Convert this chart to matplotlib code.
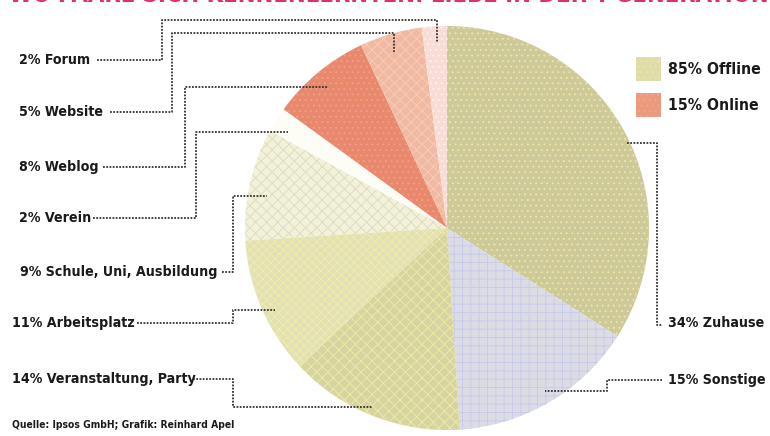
import matplotlib
matplotlib.use("Agg")
import matplotlib.pyplot as plt
from matplotlib import font_manager

# Daten
kategorien = ["Zuhause", "Sonstige", "Veranstaltung, Party", "Arbeitsplatz",
              "Schule, Uni, Ausbildung", "Verein", "Weblog", "Website", "Forum"]
anteile = [34, 15, 14, 11, 9, 2, 8, 5, 2]
farben = ["#cdc99b", "#dcdce4", "#d6d4a2", "#e2e0b6", "#f3f1d6", "#fdfdf6",
          "#e8896c", "#f1b9a2", "#f8dcd6"]
muster_farben = ["#ebe79e", "#cacaee", "#eeea9e", "#f0eca8", "#dcdccc", "#f4f4e8",
                 "#f09c94", "#f6ccb8", "#fff0f0"]
muster = ["...", "++", "xxx", "xxxx", "xxx", "", "...", "xxx", "..."]
legende = ["85% Offline", "15% Online"]
legende_farben = ["#dedcaa", "#ec9a7c"]

W, H = 770, 436
Y = lambda y: H - y  # Pixel von oben -> Datenkoordinate

# schmale Schrift, falls vorhanden
cond = [f for f in font_manager.fontManager.ttflist
        if "Condensed-Bold" in f.fname and "Oblique" not in f.fname]
if cond:
    FP = dict(fontproperties=font_manager.FontProperties(fname=cond[0].fname))
    SCALE = 1.0
else:
    FP = dict(fontfamily="Liberation Sans", fontweight="bold")
    SCALE = 0.92
plt.rcParams["hatch.linewidth"] = 0.7

fig = plt.figure(figsize=(W / 100, H / 100), dpi=100)
ax = fig.add_axes([0, 0, 1, 1])

wedges, _ = ax.pie(anteile, colors=farben, startangle=90, counterclock=False,
                   center=(447, Y(228)), radius=202,
                   wedgeprops=dict(linewidth=0))
for w, h, hc in zip(wedges, muster, muster_farben):
    if h:
        w.set_hatch(h)
        w.set_edgecolor(hc)
        w.set_linewidth(0)

ax.set_xlim(0, W); ax.set_ylim(0, H)
ax.set_aspect("equal"); ax.axis("off")


def txt(x, y, s, size, **kw):
    t = ax.text(x, Y(y), s, ha="left", va="center", color="#1a1a1a", **FP, **kw)
    t.set_fontsize(size * SCALE)
    return t


# Beschriftungen links: (Text, x, y)
links = [
    ("2% Forum", 19, 60), ("5% Website", 19, 112), ("8% Weblog", 19, 167),
    ("2% Verein", 19, 218), ("9% Schule, Uni, Ausbildung", 20, 272),
    ("11% Arbeitsplatz", 12, 323), ("14% Veranstaltung, Party", 12, 379),
]
for t, x, y in links:
    txt(x, y, t, 10.2)
for t, y in [("34% Zuhause", 323), ("15% Sonstige", 380)]:
    txt(668, y, t, 10.2)

# Verbindungslinien (Pixelpfade)
pfade = [
    [(97, 60), (162, 60), (162, 20), (437, 20), (437, 43)],
    [(110, 112), (172, 112), (172, 33), (394, 33), (394, 52)],
    [(103, 167), (185, 167), (185, 87), (328, 87)],
    [(93, 218), (196, 218), (196, 132), (288, 132)],
    [(222, 272), (233, 272), (233, 196), (267, 196)],
    [(137, 323), (233, 323), (233, 310), (275, 310)],
    [(193, 379), (233, 379), (233, 407), (373, 407)],
    [(662, 380), (607, 380), (607, 391), (545, 391)],
    [(627, 143), (657, 143), (657, 325), (662, 325)],
]
for p in pfade:
    ax.plot([a for a, b in p], [Y(b) for a, b in p], color="#333333",
            lw=1.3, ls=(0, (1, 0.8)), solid_capstyle="butt")

# Legende
for i, (t, c) in enumerate(zip(legende, legende_farben)):
    y0 = 57 + i * 36
    ax.add_patch(plt.Rectangle((636, Y(y0 + 24)), 25, 24, facecolor=c,
                               edgecolor=muster_farben[0] if i == 0 else "#f4a0a0",
                               hatch="...", linewidth=0))
    txt(668, y0 + 12, t, 11.3)

# Quelle
txt(12, 425, "Quelle: Ipsos GmbH; Grafik: Reinhard Apel", 7.4)

# Titel (oben abgeschnitten, nur unterer Rand sichtbar)
tt = fig.text(0.012, 1 - 1.5 / H, "WO PAARE SICH KENNENLERNTEN: LIEBE IN DER Y-GENERATION",
              ha="left", va="baseline", color="#e0306a", **FP)
tt.set_fontsize(17 * SCALE)

fig.savefig("out.png", dpi=100, facecolor="white")
